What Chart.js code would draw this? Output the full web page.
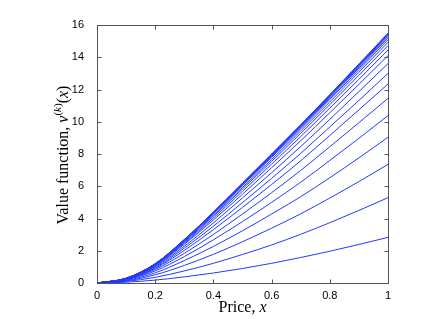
<!DOCTYPE html>
<html lang="en">
<head>
    <meta charset="UTF-8">
    <title>Value function iterations</title>
    <style>
        body {
            margin: 0;
            background: #ffffff;
        }
        #wrap {
            width: 429px;
            height: 319px;
        }
    </style>
</head>
<body>
    <div id="wrap">
        <canvas id="valueChart" width="429" height="319"></canvas>
    </div>

    <script src="https://cdn.jsdelivr.net/npm/chart.js"></script>
    <script>
        // price grid
        const prices = [0, 0.1, 0.2, 0.3, 0.4, 0.5, 0.6, 0.7, 0.8, 0.9, 1.0];

        // value function v^(k)(x), one array per iteration k
        const v1  = [0, 0.05, 0.18, 0.38, 0.62, 0.90, 1.22, 1.58, 1.97, 2.39, 2.83];
        const v2  = [0, 0.10, 0.35, 0.75, 1.22, 1.77, 2.36, 3.02, 3.74, 4.50, 5.29];
        const v3  = [0, 0.13, 0.51, 1.09, 1.78, 2.56, 3.40, 4.29, 5.27, 6.29, 7.36];
        const v4  = [0, 0.16, 0.63, 1.39, 2.27, 3.24, 4.28, 5.35, 6.53, 7.76, 9.04];
        const v5  = [0, 0.20, 0.75, 1.64, 2.68, 3.81, 5.00, 6.25, 7.60, 8.97, 10.38];
        const v6  = [0, 0.22, 0.84, 1.84, 3.01, 4.28, 5.60, 6.98, 8.45, 9.94, 11.45];
        const v7  = [0, 0.23, 0.91, 2.02, 3.31, 4.69, 6.11, 7.58, 9.15, 10.74, 12.34];
        const v8  = [0, 0.25, 0.96, 2.16, 3.52, 4.99, 6.49, 8.04, 9.68, 11.32, 13.00];
        const v9  = [0, 0.26, 1.02, 2.28, 3.73, 5.28, 6.84, 8.46, 10.15, 11.87, 13.60];
        const v10 = [0, 0.27, 1.07, 2.40, 3.91, 5.51, 7.15, 8.82, 10.56, 12.32, 14.10];
        const v11 = [0, 0.27, 1.10, 2.47, 4.03, 5.69, 7.37, 9.08, 10.84, 12.63, 14.45];
        const v12 = [0, 0.28, 1.13, 2.53, 4.14, 5.83, 7.54, 9.28, 11.06, 12.88, 14.72];
        const v13 = [0, 0.28, 1.15, 2.58, 4.21, 5.93, 7.66, 9.43, 11.23, 13.07, 14.93];
        const v14 = [0, 0.29, 1.16, 2.63, 4.29, 6.04, 7.79, 9.56, 11.38, 13.22, 15.09];
        const v15 = [0, 0.29, 1.17, 2.65, 4.32, 6.08, 7.85, 9.63, 11.47, 13.33, 15.21];
        const v16 = [0, 0.29, 1.18, 2.66, 4.35, 6.12, 7.89, 9.69, 11.54, 13.41, 15.30];
        const v17 = [0, 0.29, 1.18, 2.67, 4.37, 6.15, 7.93, 9.73, 11.59, 13.47, 15.37];
        const v18 = [0, 0.29, 1.19, 2.68, 4.38, 6.17, 7.96, 9.77, 11.63, 13.51, 15.42];
        const v19 = [0, 0.29, 1.19, 2.69, 4.39, 6.18, 7.98, 9.79, 11.66, 13.55, 15.46];
        const v20 = [0, 0.30, 1.20, 2.70, 4.40, 6.20, 8.00, 9.82, 11.68, 13.58, 15.50];

        const iterations = [v1, v2, v3, v4, v5, v6, v7, v8, v9, v10,
                            v11, v12, v13, v14, v15, v16, v17, v18, v19, v20];

        // tick labels
        const xTicks = [0, 0.2, 0.4, 0.6, 0.8, 1];
        const yTicks = [0, 2, 4, 6, 8, 10, 12, 14, 16];

        const LINE_COLOR = '#2238ff';
        const FRAME_COLOR = '#555555';

        // box around the axes with inward ticks on all four sides, MATLAB style
        const boxPlugin = {
            id: 'boxFrame',
            afterDraw(chart) {
                const { ctx, chartArea: a, scales } = chart;
                const L = Math.round(a.left) + 0.5, R = Math.round(a.right) + 0.5;
                const T = Math.round(a.top) + 0.5, B = Math.round(a.bottom) + 0.5;
                ctx.save();
                ctx.strokeStyle = FRAME_COLOR;
                ctx.lineWidth = 1;
                ctx.strokeRect(L, T, R - L, B - T);
                ctx.beginPath();
                xTicks.forEach(t => {
                    const px = Math.round(scales.x.getPixelForValue(t)) + 0.5;
                    ctx.moveTo(px, B); ctx.lineTo(px, B - 4);
                    ctx.moveTo(px, T); ctx.lineTo(px, T + 4);
                });
                yTicks.forEach(t => {
                    const py = Math.round(scales.y.getPixelForValue(t)) + 0.5;
                    ctx.moveTo(L, py); ctx.lineTo(L + 4, py);
                    ctx.moveTo(R, py); ctx.lineTo(R - 4, py);
                });
                ctx.stroke();
                ctx.restore();
            }
        };

        // axis titles with italic maths pieces
        function drawPieces(ctx, pieces, x, y) {
            let total = 0;
            pieces.forEach(p => {
                ctx.font = p.font;
                total += ctx.measureText(p.text).width;
            });
            let cx = x - total / 2;
            pieces.forEach(p => {
                ctx.font = p.font;
                ctx.fillText(p.text, cx, y + (p.dy || 0));
                cx += ctx.measureText(p.text).width;
            });
        }

        const titlePlugin = {
            id: 'axisTitles',
            afterDraw(chart) {
                const { ctx, chartArea: a } = chart;
                const serif = '"Liberation Serif", "DejaVu Serif", serif';
                ctx.save();
                ctx.fillStyle = '#000';
                ctx.textBaseline = 'alphabetic';
                ctx.textAlign = 'left';

                drawPieces(ctx, [
                    { text: 'Price, ', font: '16px ' + serif },
                    { text: 'x', font: 'italic 16px ' + serif }
                ], (a.left + a.right) / 2, 312);

                ctx.translate(68, 155);
                ctx.rotate(-Math.PI / 2);
                drawPieces(ctx, [
                    { text: 'Value function, ', font: '16px ' + serif },
                    { text: 'v', font: 'italic 16px ' + serif },
                    { text: '(', font: '11px ' + serif, dy: -7 },
                    { text: 'k', font: 'italic 11px ' + serif, dy: -7 },
                    { text: ')', font: '11px ' + serif, dy: -7 },
                    { text: '(', font: '16px ' + serif },
                    { text: 'x', font: 'italic 16px ' + serif },
                    { text: ')', font: '16px ' + serif }
                ], 0, 0);
                ctx.restore();
            }
        };

        const datasets = iterations.map((vals, k) => ({
            label: 'k = ' + (k + 1),
            data: prices.map((p, i) => ({ x: p, y: vals[i] })),
            borderColor: LINE_COLOR,
            borderWidth: 1,
            pointRadius: 0,
            fill: false,
            cubicInterpolationMode: 'monotone'
        }));

        const tickFont = { family: '"Liberation Sans", Arial, sans-serif', size: 11 };

        new Chart(document.getElementById('valueChart'), {
            type: 'line',
            data: { datasets: datasets },
            options: {
                responsive: false,
                animation: false,
                layout: { padding: { top: 25, right: 41, left: 0, bottom: 0 } },
                plugins: {
                    legend: { display: false },
                    tooltip: { enabled: false }
                },
                scales: {
                    x: {
                        type: 'linear',
                        min: 0,
                        max: 1,
                        afterFit: s => { s.height = 36; },
                        afterBuildTicks: s => { s.ticks = xTicks.map(v => ({ value: v })); },
                        grid: { display: false },
                        border: { display: false },
                        ticks: {
                            color: '#000',
                            font: tickFont,
                            padding: -2,
                            maxRotation: 0,
                            callback: v => String(v)
                        }
                    },
                    y: {
                        type: 'linear',
                        min: 0,
                        max: 16,
                        afterFit: s => { s.width = 97; },
                        afterBuildTicks: s => { s.ticks = yTicks.map(v => ({ value: v })); },
                        grid: { display: false },
                        border: { display: false },
                        ticks: {
                            color: '#000',
                            font: tickFont,
                            padding: 5,
                            callback: v => String(v)
                        }
                    }
                }
            },
            plugins: [boxPlugin, titlePlugin]
        });
    </script>
</body>
</html>
